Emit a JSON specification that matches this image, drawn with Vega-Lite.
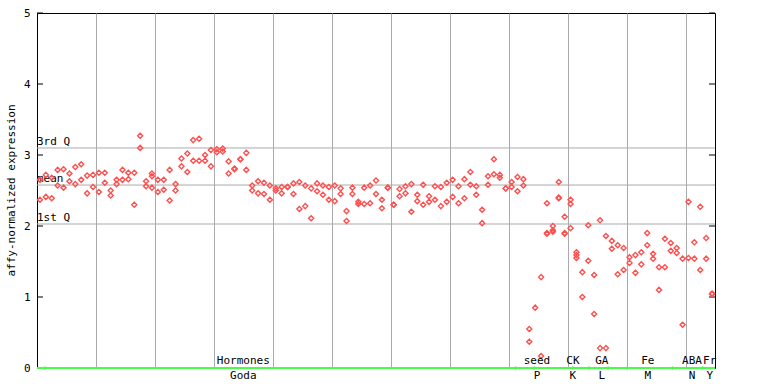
{
  "$schema": "https://vega.github.io/schema/vega-lite/v6.json",
  "width": 678,
  "height": 355,
  "autosize": "none",
  "padding": {"left": 37, "top": 13, "right": 53, "bottom": 16},
  "background": "white",
  "config": {
    "view": {"stroke": "black", "strokeWidth": 1},
    "font": "DejaVu Sans Mono"
  },
  "datasets": {
    "pts": [
      {"s":1,"v":2.65},{"s":1,"v":2.37},{"s":2,"v":2.72},{"s":2,"v":2.41},{"s":3,"v":2.68},{"s":3,"v":2.39},
      {"s":4,"v":2.79},{"s":4,"v":2.57},{"s":5,"v":2.80},{"s":5,"v":2.54},{"s":6,"v":2.74},{"s":6,"v":2.63},
      {"s":7,"v":2.83},{"s":7,"v":2.59},{"s":8,"v":2.87},{"s":8,"v":2.65},{"s":9,"v":2.71},{"s":9,"v":2.46},
      {"s":10,"v":2.72},{"s":10,"v":2.55},{"s":11,"v":2.75},{"s":11,"v":2.48},{"s":12,"v":2.75},{"s":12,"v":2.61},
      {"s":13,"v":2.50},{"s":13,"v":2.43},{"s":14,"v":2.65},{"s":14,"v":2.59},{"s":15,"v":2.79},{"s":15,"v":2.65},
      {"s":16,"v":2.75},{"s":16,"v":2.66},{"s":17,"v":2.75},{"s":17,"v":2.30},{"s":18,"v":3.27},{"s":18,"v":3.10},
      {"s":19,"v":2.63},{"s":19,"v":2.56},{"s":20,"v":2.74},{"s":20,"v":2.70},{"s":20,"v":2.54},
      {"s":21,"v":2.65},{"s":21,"v":2.48},{"s":22,"v":2.65},{"s":22,"v":2.51},{"s":23,"v":2.79},{"s":23,"v":2.36},
      {"s":24,"v":2.59},{"s":24,"v":2.50},{"s":25,"v":2.95},{"s":25,"v":2.84},{"s":26,"v":3.02},{"s":26,"v":2.76},
      {"s":27,"v":3.21},{"s":27,"v":2.92},{"s":28,"v":3.23},{"s":28,"v":2.92},{"s":29,"v":3.00},{"s":29,"v":2.92},
      {"s":30,"v":3.07},{"s":30,"v":2.84},{"s":31,"v":3.08},{"s":31,"v":3.04},{"s":32,"v":3.09},{"s":32,"v":3.05},
      {"s":33,"v":2.91},{"s":33,"v":2.74},{"s":34,"v":2.80},{"s":34,"v":2.81},{"s":35,"v":2.94},{"s":35,"v":2.94},
      {"s":36,"v":3.03},{"s":36,"v":2.79},{"s":37,"v":2.57},{"s":37,"v":2.50},{"s":38,"v":2.63},{"s":38,"v":2.46},
      {"s":39,"v":2.61},{"s":39,"v":2.45},{"s":40,"v":2.57},{"s":40,"v":2.37},{"s":41,"v":2.53},{"s":41,"v":2.50},
      {"s":42,"v":2.55},{"s":42,"v":2.46},{"s":43,"v":2.55},{"s":43,"v":2.55},{"s":44,"v":2.60},{"s":44,"v":2.45},
      {"s":45,"v":2.62},{"s":45,"v":2.24},{"s":46,"v":2.57},{"s":46,"v":2.28},{"s":47,"v":2.53},{"s":47,"v":2.11},
      {"s":48,"v":2.60},{"s":48,"v":2.49},{"s":49,"v":2.57},{"s":49,"v":2.44},{"s":50,"v":2.55},{"s":50,"v":2.37},
      {"s":51,"v":2.57},{"s":51,"v":2.35},{"s":52,"v":2.53},{"s":52,"v":2.45},{"s":53,"v":2.21},{"s":53,"v":2.07},
      {"s":54,"v":2.54},{"s":54,"v":2.45},{"s":55,"v":2.34},{"s":55,"v":2.31},{"s":56,"v":2.54},{"s":56,"v":2.31},
      {"s":57,"v":2.57},{"s":57,"v":2.32},{"s":58,"v":2.64},{"s":58,"v":2.45},{"s":59,"v":2.37},{"s":59,"v":2.25},
      {"s":60,"v":2.54},{"s":60,"v":2.54},{"s":61,"v":2.30},{"s":61,"v":2.30},{"s":62,"v":2.52},{"s":62,"v":2.42},
      {"s":63,"v":2.56},{"s":63,"v":2.46},{"s":64,"v":2.59},{"s":64,"v":2.20},{"s":65,"v":2.44},{"s":65,"v":2.35},
      {"s":66,"v":2.58},{"s":66,"v":2.30},{"s":67,"v":2.42},{"s":67,"v":2.34},{"s":68,"v":2.56},{"s":68,"v":2.37},
      {"s":69,"v":2.55},{"s":69,"v":2.28},{"s":70,"v":2.61},{"s":70,"v":2.34},{"s":71,"v":2.65},{"s":71,"v":2.41},
      {"s":72,"v":2.56},{"s":72,"v":2.32},{"s":73,"v":2.66},{"s":73,"v":2.39},{"s":74,"v":2.76},{"s":74,"v":2.58},
      {"s":75,"v":2.56},{"s":75,"v":2.44},{"s":76,"v":2.23},{"s":76,"v":2.04},{"s":77,"v":2.70},{"s":77,"v":2.58},
      {"s":78,"v":2.94},{"s":78,"v":2.73},{"s":79,"v":2.72},{"s":79,"v":2.68},{"s":80,"v":2.53},{"s":80,"v":2.53},
      {"s":81,"v":2.62},{"s":81,"v":2.55},{"s":82,"v":2.69},{"s":82,"v":2.49},{"s":83,"v":2.66},{"s":83,"v":2.57},
      {"s":84,"v":0.55},{"s":84,"v":0.37},{"s":85,"v":0.85},{"s":86,"v":1.28},{"s":86,"v":0.17},
      {"s":87,"v":2.32},{"s":87,"v":1.89},{"s":87,"v":1.90},{"s":88,"v":2.00},{"s":88,"v":1.94},{"s":88,"v":1.92},
      {"s":89,"v":2.62},{"s":89,"v":2.39},{"s":89,"v":2.40},{"s":90,"v":2.13},{"s":90,"v":1.89},{"s":90,"v":1.90},
      {"s":91,"v":2.37},{"s":91,"v":2.31},{"s":91,"v":1.97},{"s":92,"v":1.63},{"s":92,"v":1.59},{"s":92,"v":1.55},
      {"s":93,"v":1.35},{"s":93,"v":1.00},{"s":94,"v":2.01},{"s":94,"v":1.51},{"s":95,"v":1.31},{"s":95,"v":0.76},
      {"s":96,"v":2.08},{"s":96,"v":0.28},{"s":97,"v":1.86},{"s":97,"v":0.28},{"s":98,"v":1.79},{"s":98,"v":1.68},
      {"s":99,"v":1.73},{"s":99,"v":1.32},{"s":100,"v":1.69},{"s":100,"v":1.38},{"s":101,"v":1.56},{"s":101,"v":1.48},
      {"s":102,"v":1.59},{"s":102,"v":1.34},{"s":103,"v":1.63},{"s":103,"v":1.46},{"s":104,"v":1.90},{"s":104,"v":1.73},
      {"s":105,"v":1.61},{"s":105,"v":1.54},{"s":106,"v":1.42},{"s":106,"v":1.10},{"s":107,"v":1.82},{"s":107,"v":1.42},
      {"s":108,"v":1.76},{"s":108,"v":1.65},{"s":109,"v":1.69},{"s":109,"v":1.62},{"s":110,"v":1.54},{"s":110,"v":0.61},
      {"s":111,"v":2.34},{"s":111,"v":1.55},{"s":112,"v":1.77},{"s":112,"v":1.54},{"s":113,"v":2.27},{"s":113,"v":1.38},
      {"s":114,"v":1.83},{"s":114,"v":1.54},{"s":115,"v":1.04},{"s":115,"v":1.05}
    ],
    "refs": [
      {"label": "3rd Q", "v": 3.099},
      {"label": "mean", "v": 2.577},
      {"label": "1st Q", "v": 2.028}
    ],
    "ticks": [{"t": 0}, {"t": 1}, {"t": 2}, {"t": 3}, {"t": 4}, {"t": 5}],
    "groups": [
      {"top": "Hormones", "bottom": "Goda", "c": 35.5},
      {"top": "seed", "bottom": "P", "c": 85.3},
      {"top": "CK", "bottom": "K", "c": 91.4},
      {"top": "GA", "bottom": "L", "c": 96.3},
      {"top": "Fe", "bottom": "M", "c": 104.1},
      {"top": "ABA", "bottom": "N", "c": 111.6},
      {"top": "Fr", "bottom": "Y", "c": 114.6}
    ],
    "larrows": [{"s": 1.6}, {"s": 84.6}, {"s": 93.9}, {"s": 100.4}],
    "rarrows": [{"s": 81.9}, {"s": 91.6}, {"s": 97.6}, {"s": 108.5}, {"s": 113.6}]
  },
  "layer": [
    {
      "layer": [
        {
          "data": {"name": "refs"},
          "mark": {"type": "rule", "color": "#aaaaaa", "strokeWidth": 1},
          "encoding": {
            "y": {"field": "v", "type": "quantitative", "scale": {"domain": [0, 5], "nice": false, "zero": false},
              "axis": {
                "values": [0, 1, 2, 3, 4, 5], "format": "d", "grid": false, "ticks": false, "domainColor": "black",
                "labelPadding": 7, "labelFont": "DejaVu Sans Mono", "labelFontSize": 11, "labelColor": "black",
                "title": "affy-normalized expression", "titleFont": "DejaVu Sans Mono", "titleFontSize": 11,
                "titleFontWeight": "normal", "titleColor": "black", "titleAngle": -90, "titleX": -26, "titleY": 177,
                "titleAlign": "center", "titleBaseline": "middle"
              }
            }
          }
        },
        {
          "data": {"name": "ticks"},
          "mark": {"type": "rule", "color": "black", "strokeWidth": 1},
          "encoding": {
            "x": {"datum": 0.5, "type": "quantitative"},
            "x2": {"datum": 1.52},
            "y": {"field": "t", "type": "quantitative"}
          }
        },
        {
          "data": {"name": "ticks"},
          "mark": {"type": "rule", "color": "black", "strokeWidth": 1},
          "encoding": {
            "x": {"datum": 114.48, "type": "quantitative"},
            "x2": {"datum": 115.5},
            "y": {"field": "t", "type": "quantitative"}
          }
        },
        {
          "data": {"name": "refs"},
          "mark": {"type": "text", "align": "left", "baseline": "bottom", "dy": -1, "font": "DejaVu Sans Mono", "fontSize": 11, "color": "black"},
          "encoding": {
            "x": {"datum": 0.5, "type": "quantitative"},
            "y": {"field": "v", "type": "quantitative"},
            "text": {"field": "label"}
          }
        },
        {
          "data": {"name": "pts"},
          "mark": {"type": "point", "shape": "diamond", "filled": false, "stroke": "#ff5050", "strokeWidth": 1.4, "size": 26, "opacity": 1},
          "encoding": {
            "x": {"field": "s", "type": "quantitative", "scale": {"domain": [0.5, 115.5], "nice": false, "zero": false},
              "axis": {"values": [10.5, 20.5, 30.5, 40.5, 50.5, 60.5, 70.5, 80.5, 90.5, 100.5, 110.5], "grid": true, "gridColor": "#aaaaaa", "gridOpacity": 1,
                "labels": false, "ticks": false, "domain": false, "title": null}
            },
            "y": {"field": "v", "type": "quantitative"}
          }
        },
        {
          "data": {"values": [{"z": 0}]},
          "mark": {"type": "rule", "color": "#44ff44", "strokeWidth": 2},
          "encoding": {"y": {"field": "z", "type": "quantitative"}}
        },
        {
          "data": {"name": "larrows"},
          "mark": {"type": "point", "shape": "triangle-left", "filled": true, "color": "#44ff44", "size": 18, "opacity": 1},
          "encoding": {"x": {"field": "s", "type": "quantitative"}, "y": {"datum": 0, "type": "quantitative"}}
        },
        {
          "data": {"name": "rarrows"},
          "mark": {"type": "point", "shape": "triangle-right", "filled": true, "color": "#44ff44", "size": 18, "opacity": 1},
          "encoding": {"x": {"field": "s", "type": "quantitative"}, "y": {"datum": 0, "type": "quantitative"}}
        },
        {
          "data": {"name": "groups"},
          "mark": {"type": "text", "align": "center", "baseline": "middle", "dy": -7, "font": "DejaVu Sans Mono", "fontSize": 11, "color": "black"},
          "encoding": {
            "x": {"field": "c", "type": "quantitative"},
            "y": {"datum": 0, "type": "quantitative"},
            "text": {"field": "top"}
          }
        },
        {
          "data": {"name": "groups"},
          "mark": {"type": "text", "align": "center", "baseline": "middle", "dy": 8, "font": "DejaVu Sans Mono", "fontSize": 11, "color": "black", "clip": false},
          "encoding": {
            "x": {"field": "c", "type": "quantitative"},
            "y": {"datum": 0, "type": "quantitative"},
            "text": {"field": "bottom"}
          }
        }
      ]
    }
  ]
}
